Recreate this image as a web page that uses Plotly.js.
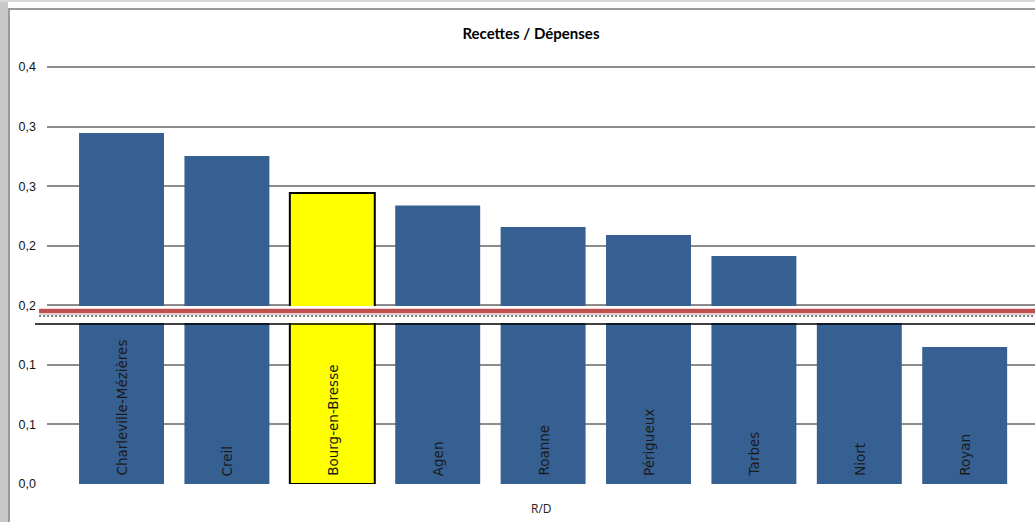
<!DOCTYPE html>
<html>
<head>
<meta charset="utf-8">
<script src="https://cdn.plot.ly/plotly-3.0.1.min.js"></script>
<style>
html,body{margin:0;padding:0;background:#fff;}
#chart{width:1035px;height:522px;}
</style>
</head>
<body>
<div id="chart"></div>
<script>
// Data
const categories = ["Charleville-Mézières", "Creil", "Bourg-en-Bresse", "Agen", "Roanne", "Périgueux", "Tarbes", "Niort", "Royan"];
const ratioRD = [0.2946, 0.2753, 0.2443, 0.2337, 0.2157, 0.2090, 0.1914, 0.1400, 0.1150];
const highlighted = "Bourg-en-Bresse";
const tickValues = [0, 0.05, 0.10, 0.15, 0.20, 0.25, 0.30, 0.35];
const tickLabels = ["0,0", "0,1", "0,1", "0,2", "0,2", "0,3", "0,3", "0,4"];

const blue = "#366092";
const colors = categories.map(c => c === highlighted ? "#ffff00" : blue);
const lineW = categories.map(c => c === highlighted ? 2 : 0);

const trace = {
  type: "bar",
  x: categories,
  y: ratioRD,
  marker: {color: colors, line: {color: "#000", width: lineW}},
  hoverinfo: "x+y"
};

const annotations = categories.map(c => ({
  x: c, y: 0, xref: "x", yref: "y",
  text: c, showarrow: false, textangle: -90,
  xanchor: "center", yanchor: "bottom", yshift: 6,
  font: {family: "DejaVu Sans, Verdana, sans-serif", size: 13.5, color: "#1a1a1a"}
}));
annotations.push({
  x: 0.5, y: -0.055, xref: "paper", yref: "paper",
  text: "R/D", showarrow: false, xanchor: "center", yanchor: "middle",
  font: {family: "Open Sans", size: 12, color: "#222"}
});

const shapes = [
  // window frame (left & top)
  {type: "rect", xref: "paper", yref: "paper", x0: -0.0476, x1: -0.0395, y0: -0.09, y1: 1.11, fillcolor: "#c8c8c8", line: {width: 0}, layer: "above"},
  {type: "line", xref: "paper", yref: "paper", x0: -0.0385, x1: -0.0385, y0: -0.09, y1: 1.082, line: {color: "#9a9a9a", width: 2}, layer: "above"},
  {type: "rect", xref: "paper", yref: "paper", x0: -0.0476, x1: 1, y0: 1.098, y1: 1.11, fillcolor: "#d8d8d8", line: {width: 0}, layer: "above"},
  {type: "line", xref: "paper", yref: "paper", x0: -0.0395, x1: 1, y0: 1.082, y1: 1.082, line: {color: "#9a9a9a", width: 2}, layer: "above"},
  // overlay band with red rule
  {type: "rect", xref: "paper", yref: "paper", x0: -0.0121, x1: 1, y0: 0.3667, y1: 0.4055, fillcolor: "#ffffff", line: {width: 0}, layer: "above"},
  {type: "line", xref: "paper", yref: "paper", x0: -0.008, x1: 1, y0: 0.3941, y1: 0.3941, line: {color: "#c0504d", width: 4.5}, layer: "above"},
  {type: "line", xref: "paper", yref: "paper", x0: -0.008, x1: 1, y0: 0.3860, y1: 0.3860, line: {color: "#d0d0d0", width: 1}, layer: "above"},
  {type: "line", xref: "paper", yref: "paper", x0: -0.008, x1: 1, y0: 0.3827, y1: 0.3827, line: {color: "#555", width: 1.5, dash: "2px,2px"}, layer: "above"},
  {type: "line", xref: "paper", yref: "paper", x0: -0.0121, x1: 1, y0: 0.3645, y1: 0.3645, line: {color: "#000", width: 1.5}, layer: "above"}
];

const layout = {
  width: 1035, height: 522,
  margin: {l: 47, r: 0, t: 45, b: 38},
  paper_bgcolor: "#fff", plot_bgcolor: "#fff",
  title: {text: "<b>Recettes / Dépenses</b>", x: 0.513, xanchor: "center", y: 0.936, yanchor: "middle",
          font: {family: "Lato", size: 15, color: "#000"}},
  bargap: 0.194,
  showlegend: false,
  xaxis: {
    type: "category", range: [-0.707, 8.667], showticklabels: false,
    showgrid: false, zeroline: false, showline: false, ticks: "", fixedrange: true
  },
  yaxis: {
    range: [0, 0.3685], tickvals: tickValues, ticktext: tickLabels,
    showgrid: true, gridcolor: "#8c8c8c", gridwidth: 2, zeroline: false, showline: false,
    ticks: "", ticklabelstandoff: 10,
    tickfont: {family: "Liberation Sans", size: 12.5, color: "#111"}
  },
  annotations: annotations,
  shapes: shapes
};

Plotly.newPlot("chart", [trace], layout, {displayModeBar: false, staticPlot: true});
</script>
</body>
</html>
